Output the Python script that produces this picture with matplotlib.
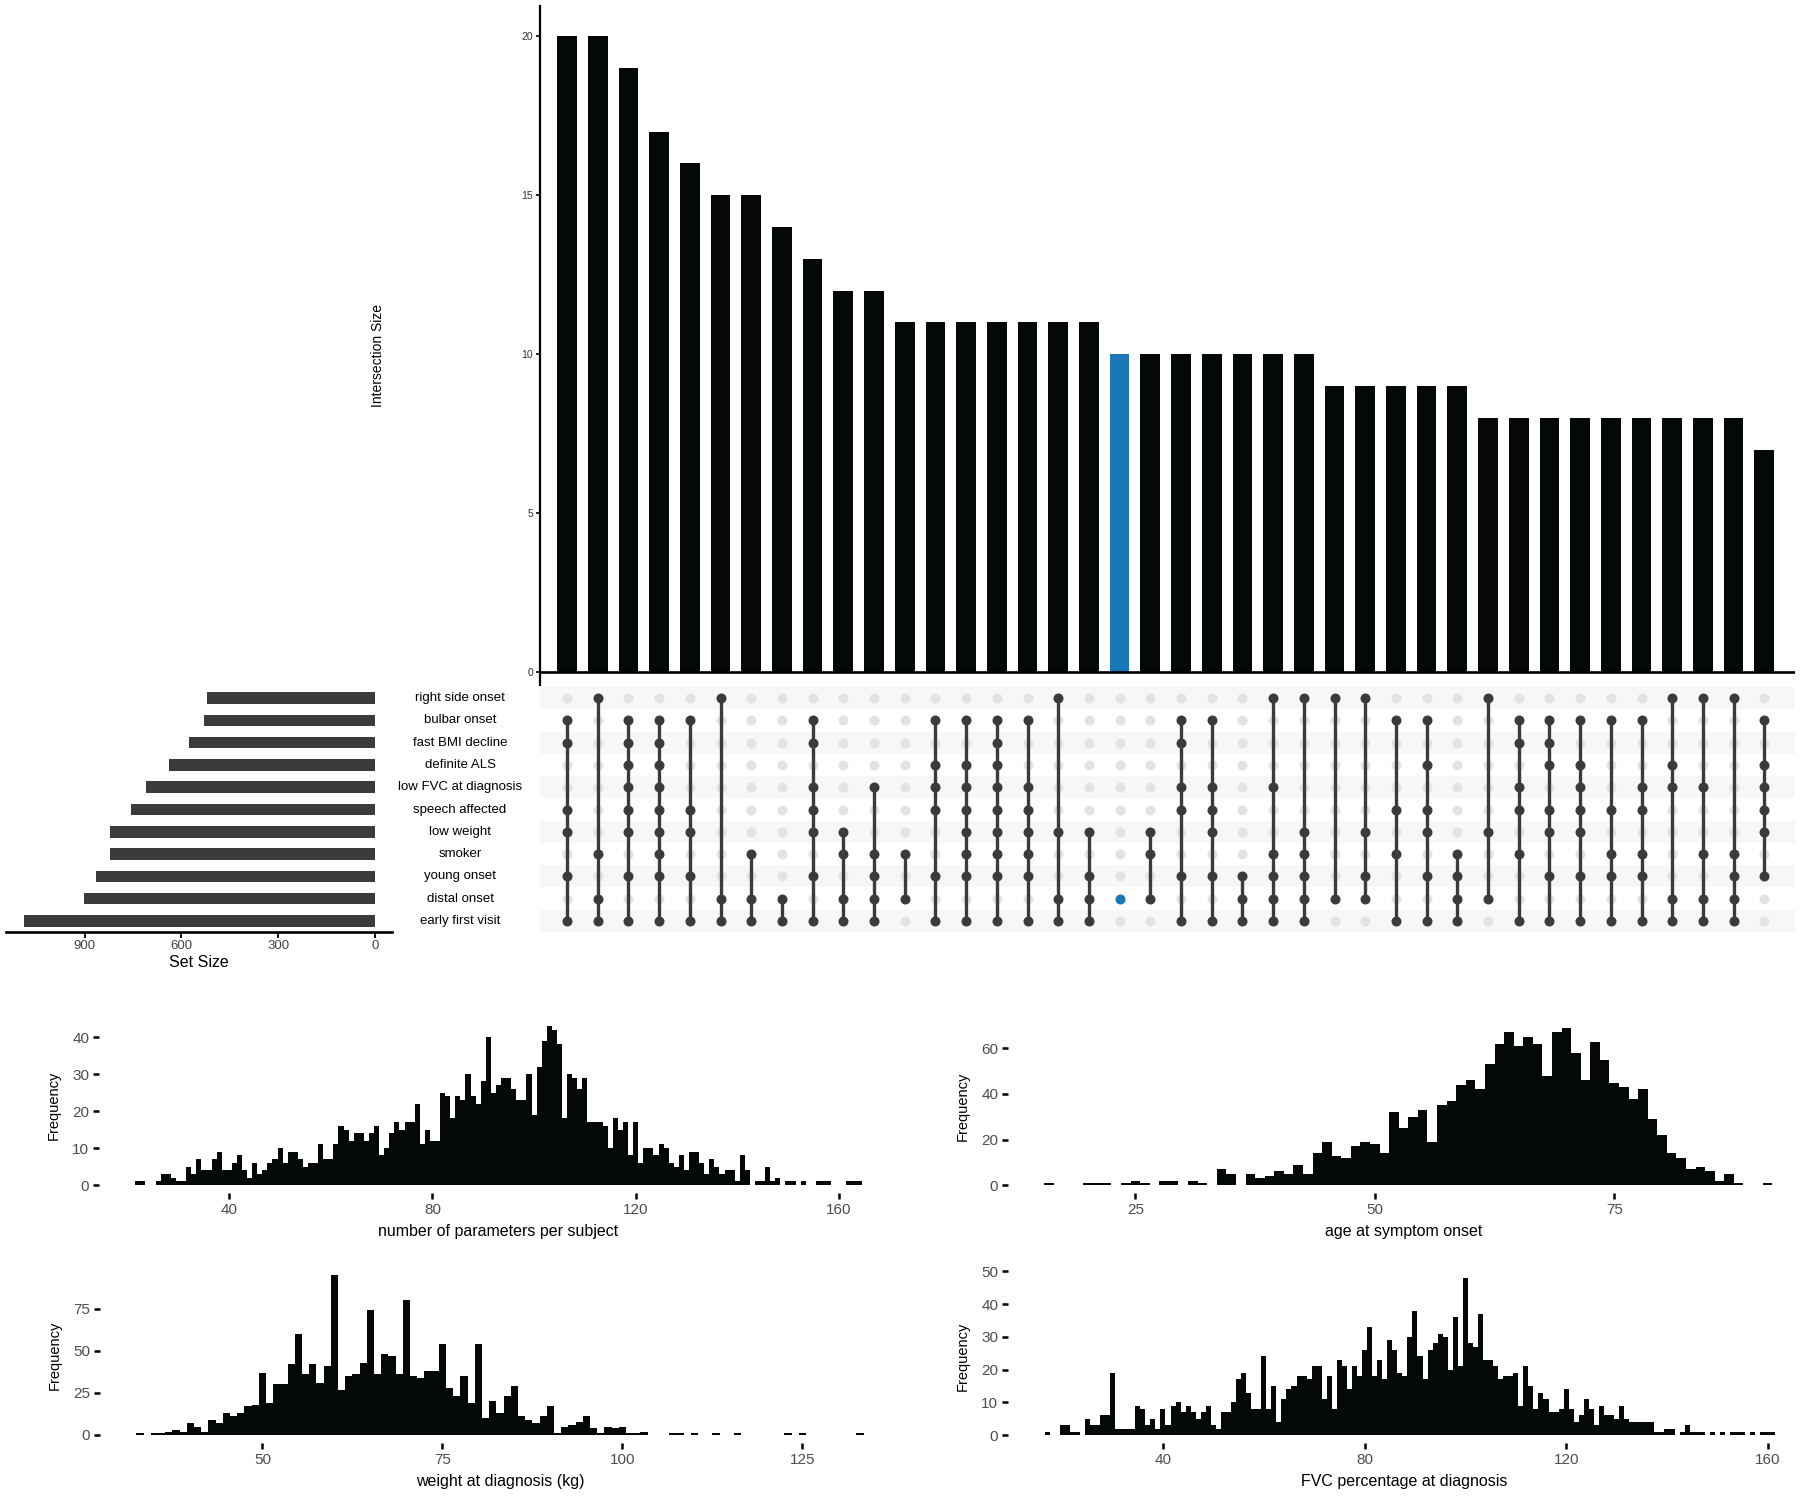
import matplotlib.pyplot as plt
import numpy as np

plt.rcParams['font.family'] = ['Liberation Sans', 'DejaVu Sans']

# ---- UpSet data ----
set_names = ["right side onset", "bulbar onset", "fast BMI decline", "definite ALS",
             "low FVC at diagnosis", "speech affected", "low weight", "smoker",
             "young onset", "distal onset", "early first visit"]
set_sizes = [521, 529, 577, 640, 710, 757, 821, 821, 864, 901, 1087]

inter_sizes = [20, 20, 19, 17, 16, 15, 15, 14, 13, 12, 12,
               11, 11, 11, 11, 11, 11, 11,
               10, 10, 10, 10, 10, 10, 10,
               9, 9, 9, 9, 9,
               8, 8, 8, 8, 8, 8, 8, 8, 8, 7]
# row indices (into set_names) of each intersection
inter_members = [
    [1, 2, 5, 6, 8, 10], [0, 7, 9, 10], [1, 2, 3, 4, 5, 6, 8, 10], [1, 2, 3, 4, 5, 6, 7, 8, 10],
    [1, 5, 6, 8, 10], [0, 9, 10], [7, 9, 10], [9, 10], [1, 2, 4, 5, 6, 8, 10], [6, 7, 9, 10],
    [4, 7, 8, 9, 10], [7, 9], [1, 3, 4, 5, 8, 10], [1, 3, 4, 5, 6, 7, 8, 10],
    [1, 2, 3, 4, 5, 6, 7, 8, 10], [1, 4, 5, 6, 7, 8, 10], [0, 6, 9, 10], [6, 8, 9, 10],
    [9], [6, 7, 9], [1, 2, 4, 5, 8, 10], [1, 4, 5, 6, 8, 10], [8, 9, 10], [0, 4, 7, 8, 9, 10],
    [0, 6, 7, 8, 9, 10], [0, 9], [0, 6, 8, 9], [1, 5, 7, 10], [1, 3, 5, 6, 8, 10], [7, 8, 9, 10],
    [0, 6, 9], [1, 2, 4, 5, 7, 10], [1, 2, 3, 5, 6, 8, 10], [1, 3, 4, 5, 6, 8, 10],
    [1, 5, 7, 8, 10], [1, 4, 5, 7, 8, 10], [0, 3, 4, 9, 10], [0, 4, 7, 9, 10],
    [0, 7, 8, 9, 10], [1, 3, 4, 5, 6, 8],
]
highlight = 18

# ---- histogram data (binwidth 1, first bin centre given) ----
params_start = 22
params_counts = [1, 1, 0, 0, 1, 3, 3, 2, 1, 1,
                 5, 3, 7, 4, 4, 7, 9, 4, 4, 6,
                 8, 4, 2, 6, 3, 4, 6, 7, 10, 6,
                 9, 9, 7, 5, 6, 6, 11, 7, 7, 11,
                 16, 15, 12, 14, 14, 12, 14, 16, 8, 10,
                 14, 17, 15, 17, 17, 22, 11, 15, 12, 12,
                 25, 24, 18, 24, 23, 30, 24, 22, 28, 40,
                 25, 27, 29, 29, 26, 23, 23, 30, 19, 32,
                 39, 43, 42, 38, 18, 30, 29, 26, 29, 17,
                 17, 17, 16, 10, 18, 15, 17, 8, 17, 6,
                 10, 10, 8, 11, 10, 6, 5, 8, 4, 9,
                 9, 6, 3, 7, 5, 3, 4, 4, 1, 8,
                 4, 0, 1, 1, 5, 1, 2, 0, 1, 1,
                 0, 1, 0, 0, 1, 1, 1, 0, 0, 0,
                 1, 1, 1]

age_start = 16
age_counts = [1, 0, 0, 0, 1, 1, 1, 0, 1, 2,
              1, 0, 2, 2, 0, 2, 1, 0, 7, 5,
              0, 5, 3, 4, 6, 5, 9, 5, 14, 19,
              13, 12, 17, 19, 18, 14, 32, 25, 30, 33,
              19, 35, 37, 44, 46, 42, 53, 62, 67, 61,
              65, 62, 48, 67, 69, 58, 46, 63, 55, 45,
              43, 38, 42, 29, 22, 14, 12, 7, 8, 6,
              2, 5, 1, 0, 0, 1]

weight_start = 33
weight_counts = [1, 0, 1, 1, 2, 3, 2, 7, 5, 2,
                 9, 7, 13, 11, 13, 17, 18, 37, 19, 30,
                 30, 42, 60, 36, 42, 31, 41, 95, 27, 35,
                 36, 43, 74, 36, 48, 47, 36, 80, 35, 34,
                 38, 38, 54, 28, 23, 35, 19, 54, 10, 20,
                 13, 23, 29, 11, 9, 7, 11, 17, 1, 5,
                 6, 8, 11, 4, 1, 5, 4, 5, 1, 1,
                 2, 0, 0, 0, 1, 1, 0, 1, 0, 0,
                 1, 0, 0, 1, 0, 0, 0, 0, 0, 0,
                 1, 0, 1, 0, 0, 0, 0, 0, 0, 0,
                 1]

fvc_start = 17
fvc_counts = [1, 0, 0, 3, 3, 1, 1, 0, 5, 3,
              3, 6, 6, 19, 2, 2, 2, 2, 9, 8,
              3, 5, 2, 8, 3, 9, 10, 7, 9, 7,
              5, 7, 9, 3, 2, 7, 7, 10, 17, 19,
              13, 8, 8, 24, 8, 15, 4, 11, 14, 15,
              18, 18, 17, 21, 21, 11, 18, 8, 23, 21,
              14, 21, 18, 26, 33, 18, 23, 17, 29, 26,
              19, 18, 30, 38, 24, 17, 26, 28, 31, 30,
              20, 36, 21, 48, 28, 27, 37, 23, 23, 21,
              17, 18, 18, 19, 9, 21, 15, 8, 13, 11,
              7, 7, 8, 14, 8, 4, 6, 11, 8, 3,
              9, 6, 6, 5, 9, 5, 4, 4, 4, 4,
              4, 1, 1, 2, 2, 0, 1, 3, 1, 1,
              1, 0, 1, 0, 1, 0, 1, 1, 1, 0,
              1, 0, 1, 1, 1]

W, H = 1800, 1497
fig = plt.figure(figsize=(18, 14.97), dpi=100)


def box(l, r, t, b):
    return [l / W, 1 - b / H, (r - l) / W, (b - t) / H]


dark = '#3b3b3b'
n_int = len(inter_sizes)
n_set = len(set_names)
xs = np.arange(n_int)
bar_xlim = (-0.88, 40.0)

# intersection bars
ax_bar = fig.add_axes(box(540, 1795, 6, 685))
cols = ['#1a78b8' if i == highlight else '#050808' for i in xs]
ax_bar.bar(xs, inter_sizes, width=0.64, color=cols, zorder=2)
ax_bar.axhline(0, color='black', lw=1.9, zorder=3)
ax_bar.set_xlim(bar_xlim)
ax_bar.set_ylim(-0.4, 20.95)
for s in ['top', 'right', 'bottom']:
    ax_bar.spines[s].set_visible(False)
ax_bar.spines['left'].set_linewidth(1.6)
ax_bar.set_xticks([])
ax_bar.set_yticks([0, 5, 10, 15, 20])
ax_bar.tick_params(axis='y', length=3, width=1.2, labelsize=7.5, labelcolor='#333333', pad=2)
ax_bar.set_ylabel('Intersection Size', fontsize=10)
ax_bar.yaxis.set_label_coords(-0.1235, 0.485)

# matrix
ax_mat = fig.add_axes(box(540, 1795, 687, 932))
ax_mat.set_xlim(bar_xlim)
ax_mat.set_ylim(n_set - 0.5, -0.5)
for r in range(0, n_set, 2):
    ax_mat.axhspan(r - 0.5, r + 0.5, color='#f6f7f8', lw=0, zorder=0)
for j, mem in enumerate(inter_members):
    off = [r for r in range(n_set) if r not in mem]
    ax_mat.scatter([j] * len(off), off, s=52, color='#e2e3e3', lw=0, zorder=1)
    c = '#1a78b8' if j == highlight else dark
    if len(mem) > 1:
        ax_mat.plot([j, j], [min(mem), max(mem)], color=c, lw=2.4, zorder=2,
                    solid_capstyle='butt')
    ax_mat.scatter([j] * len(mem), mem, s=52, color=c, lw=0, zorder=3)
ax_mat.axis('off')
for r, name in enumerate(set_names):
    ax_mat.text(-0.0637, r, name, transform=ax_mat.get_yaxis_transform(),
                ha='center', va='center', fontsize=9.5, clip_on=False)

# set size bars
ax_set = fig.add_axes(box(6, 392, 687, 932))
ax_set.barh(np.arange(n_set), set_sizes, height=0.52, color=dark)
ax_set.set_xlim(1144, -53)
ax_set.set_ylim(n_set - 0.5, -0.5)
for s in ['top', 'right', 'left']:
    ax_set.spines[s].set_visible(False)
ax_set.spines['bottom'].set_linewidth(1.9)
ax_set.set_yticks([])
ax_set.set_xticks([900, 600, 300, 0])
ax_set.tick_params(axis='x', length=4, width=1.3, labelsize=9.5, labelcolor='#444444', pad=2)
ax_set.set_xlabel('Set Size', fontsize=11.5, labelpad=2)


def hist_panel(rect, start, counts, xlim, ylim, xticks, yticks, xlabel):
    ax = fig.add_axes(box(*rect))
    centers = start + np.arange(len(counts))
    ax.bar(centers, counts, width=1.0, color='#050808', linewidth=0)
    ax.set_xlim(xlim)
    ax.set_ylim(ylim)
    for s in ax.spines.values():
        s.set_visible(False)
    ax.set_xticks(xticks)
    ax.set_yticks(yticks)
    ax.tick_params(length=4, width=1.8, labelsize=11, labelcolor='#4d4d4d', pad=3)
    ax.set_xlabel(xlabel, fontsize=11.5, labelpad=5)
    ax.set_ylabel('Frequency', fontsize=10.5, labelpad=8)
    return ax


hist_panel((99, 898, 1018, 1193), params_start, params_counts, (14.35, 171.65), (-2.15, 45.15),
           [40, 80, 120, 160], [0, 10, 20, 30, 40], 'number of parameters per subject')
hist_panel((1008, 1800, 1020, 1193), age_start, age_counts, (11.7, 94.4), (-3.45, 72.45),
           [25, 50, 75], [0, 20, 40, 60], 'age at symptom onset')
hist_panel((100, 900, 1267, 1443), weight_start, weight_counts, (27.45, 138.55), (-4.75, 99.75),
           [50, 75, 100, 125], [0, 25, 50, 75], 'weight at diagnosis (kg)')
hist_panel((1008, 1800, 1270, 1443), fvc_start, fvc_counts, (9.25, 166.4), (-2.4, 50.4),
           [40, 80, 120, 160], [0, 10, 20, 30, 40, 50], 'FVC percentage at diagnosis')

fig.savefig('out.png', dpi=100)
